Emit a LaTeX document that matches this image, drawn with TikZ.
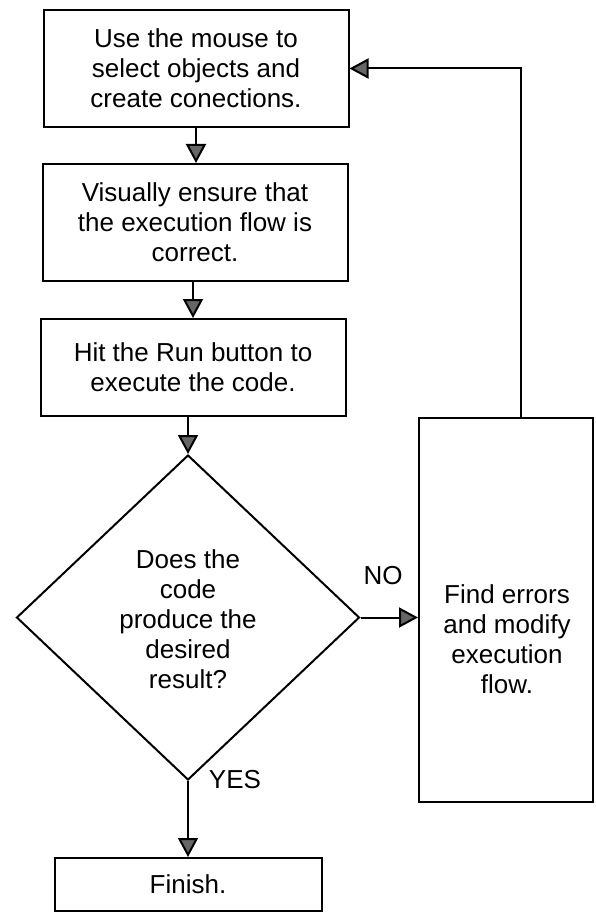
\documentclass[tikz,border=0pt]{standalone}
\usepackage{fontspec}
\setmainfont{Liberation Sans}
\usetikzlibrary{arrows.meta,shapes.geometric}
\begin{document}
\begin{tikzpicture}[x=1pt,y=-1pt,
  every node/.style={font=\fontsize{26}{30}\selectfont},
  procbox/.style={draw, line width=2pt, minimum width=305pt, align=center, inner sep=0pt},
  decision/.style={draw, diamond, line width=2pt, minimum width=343pt, minimum height=325pt, inner sep=0pt},
  arr/.style={line width=2pt, -{Triangle[width=20pt,length=19pt,fill=black!60]}},
  lbl/.style={inner sep=0pt, align=center},
  ]
\clip (0,0) rectangle (595,912);
\fill[white] (0,0) rectangle (595,912);

\node[procbox, minimum height=117pt] (b1) at (196,68.5) {Use the mouse to\\select objects and\\create conections.};
\node[procbox, minimum height=117pt] (b2) at (195,222.5) {Visually ensure that\\the execution flow is\\correct.};
\node[procbox, minimum height=97pt] (b3) at (193,367.5) {Hit the Run button to\\execute the code.};

\node[decision] (dia) at (188,617.5) {};
\node[lbl] (dtext) at (188,619) {Does the\\code\\produce the\\desired\\result?};

\node[draw, line width=2pt, minimum width=174pt, minimum height=384pt, inner sep=0pt] (rb) at (506,610) {};
\node[lbl] (rbt) at (507,639) {Find errors\\and modify\\execution\\flow.};

\node[procbox, minimum width=267pt, minimum height=53pt] (fin) at (188,884.5) {Finish.};

\node[lbl] (no) at (383,576) {NO};
\node[lbl] (yes) at (235,780) {YES};

\coordinate (lc) at (521,71);

\draw[arr] (b1.south) -- (b1.south |- b2.north);
\draw[arr] (b2.south -| b3.north) -- (b3.north);
\draw[arr] (b3.south -| dia.north) -- (dia.north);
\draw[arr] (dia.east) -- (rb.west |- dia.east);
\draw[arr] (dia.south) -- (fin.north -| dia.south);
\draw[arr] (rb.north -| lc) |- (b1.east);
\end{tikzpicture}
\end{document}
